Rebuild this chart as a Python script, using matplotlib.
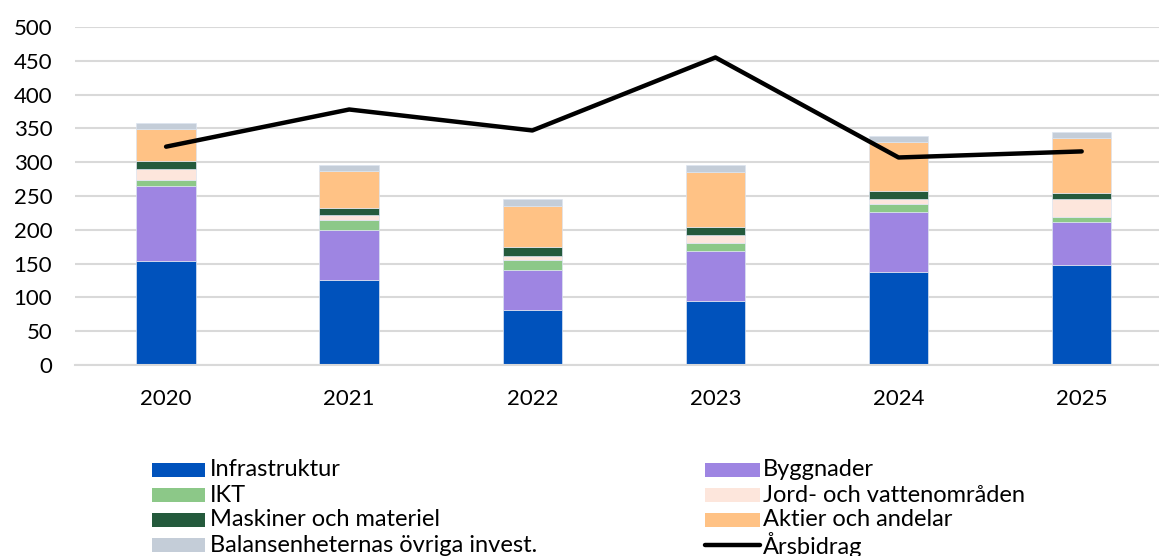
import matplotlib.pyplot as plt
import numpy as np
from matplotlib.patches import Rectangle
from matplotlib.lines import Line2D

plt.rcParams['font.family'] = ['Lato', 'DejaVu Sans']

# data
years = ['2020', '2021', '2022', '2023', '2024', '2025']
infrastruktur = [154, 126, 81, 95, 138, 148]
byggnader = [111, 74, 60, 74, 89, 63]
ikt = [9, 14, 14, 11.5, 11, 8]
jord = [16, 8.5, 6, 12, 8, 26.5]
maskiner = [12, 10, 14, 11, 11, 9]
aktier = [47, 54, 60, 82, 73, 81]
balans = [9, 10, 11, 10, 9, 9]
arsbidrag = [323, 378, 347, 455, 307, 316]

series = [
    ('Infrastruktur', infrastruktur, '#0052BC'),
    ('Byggnader', byggnader, '#9E85E2'),
    ('IKT', ikt, '#8CC888'),
    ('Jord- och vattenområden', jord, '#FDE6DC'),
    ('Maskiner och materiel', maskiner, '#245A3C'),
    ('Aktier och andelar', aktier, '#FFC285'),
    ('Balansenheternas övriga invest.', balans, '#C4CDD8'),
]

W, H = 1159, 556
fig = plt.figure(figsize=(W / 100, H / 100), dpi=100)
ax = fig.add_axes([0.0643, 0.3435, 0.948, 0.6079])

x = np.arange(len(years))
bottom = np.zeros(len(years))
for name, vals, col in series:
    ax.bar(x, vals, 0.325, bottom=bottom, color=col, edgecolor='#DCE4F0',
           linewidth=0.5, zorder=2)
    bottom += np.array(vals)

ax.plot(x, arsbidrag, color='black', lw=3.2, solid_capstyle='round',
        solid_joinstyle='round', zorder=3)

ax.set_xlim(-0.5, 5.5)
ax.set_ylim(0, 500)
ax.set_yticks(range(0, 501, 50))
ax.set_xticks(x)
ax.set_xticklabels(years)
ax.yaxis.grid(True, color='#D9D9D9', lw=1.5, zorder=0)
ax.set_axisbelow(True)
for s in ['top', 'right', 'left']:
    ax.spines[s].set_visible(False)
ax.spines['bottom'].set_color('#D9D9D9')
ax.spines['bottom'].set_linewidth(1.5)
ax.tick_params(axis='both', length=0, labelsize=16, colors='black')
ax.tick_params(axis='x', pad=17)
ax.tick_params(axis='y', pad=16)

# legend drawn by hand (two columns, four rows)
col1 = [('Infrastruktur', '#0052BC'), ('IKT', '#8CC888'),
        ('Maskiner och materiel', '#245A3C'),
        ('Balansenheternas övriga invest.', '#C4CDD8')]
col2 = [('Byggnader', '#9E85E2'), ('Jord- och vattenområden', '#FDE6DC'),
        ('Aktier och andelar', '#FFC285'), ('Årsbidrag', None)]
rows_y = [470, 495, 520, 545]
for (hx0, hx1, tx), entries in [((152, 205, 210), col1), ((705, 760, 763), col2)]:
    for (label, col), py in zip(entries, rows_y):
        yf = 1 - py / H
        if col is None:
            fig.add_artist(Line2D([hx0 / W, hx1 / W], [yf, yf], color='black',
                                  lw=3.2, solid_capstyle='round'))
        else:
            fig.add_artist(Rectangle((hx0 / W, yf - 7 / H), (hx1 - hx0) / W, 14 / H,
                                     color=col, lw=0))
        fig.text(tx / W, yf, label, fontsize=17, va='center', ha='left')

plt.savefig('out.png', dpi=100)
